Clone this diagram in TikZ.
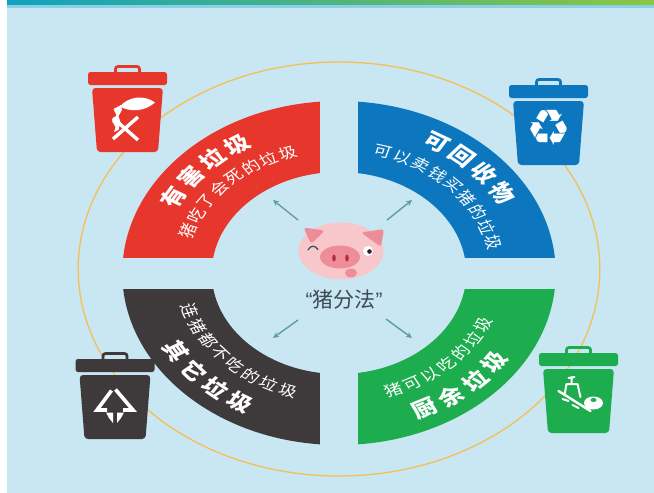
\documentclass[tikz,border=0pt]{standalone}
\usepackage{fontspec}
\newfontfamily\cjk{Noto Sans CJK SC}
\newfontfamily\sym{DejaVu Sans}
\newfontfamily\qfont{Liberation Sans}
\usetikzlibrary{arrows.meta,shapes.geometric}

\definecolor{bg}{HTML}{C8E7F2}
\definecolor{stripA}{HTML}{0FA3BE}
\definecolor{stripB}{HTML}{8DC63F}
\definecolor{band}{HTML}{8BD0E6}
\definecolor{ringred}{HTML}{E7372C}
\definecolor{ringblue}{HTML}{0C77BE}
\definecolor{ringdark}{HTML}{3E3A3B}
\definecolor{ringgreen}{HTML}{1DAD4F}
\definecolor{orangeline}{HTML}{F5BF55}
\definecolor{pigface}{HTML}{F7C7CB}
\definecolor{pigear}{HTML}{EE8D9A}
\definecolor{pigsnout}{HTML}{EE8D98}
\definecolor{nostril}{HTML}{B22B40}
\definecolor{pointer}{HTML}{5E9C9F}
\definecolor{captext}{HTML}{3D4A52}

% one character of a curved label, placed and turned on the ring
\newcommand\ringtext[8]{%
  \foreach \ch [count=\i] in {#1} {%
    \pgfmathsetmacro\ang{#4+(\i-(#2+1)/2)*(#5)}%
    \pgfmathsetmacro\rot{\ang+(#6)}%
    \node[ringchar, font=#7, rotate=\rot] (#8-\i) at (\ang:#3) {\ch};
  }}

\tikzset{
  ringchar/.style={transform shape, inner sep=0pt, text=white, anchor=center},
  pointerline/.style={pointer, line width=1.4pt, -{Stealth[length=6pt,width=5.5pt]}},
  pics/bin/.style={code={
    \draw[#1, line width=2.8pt, rounded corners=2.5pt] (-12,0.5) -- (-12,-5.5) -- (12,-5.5) -- (12,0.5);
    \fill[#1, rounded corners=2.5pt] (-39.5,0) rectangle (39.5,13);
    \fill[#1, rounded corners=3.5pt] (-35.5,16) -- (35.5,16) -- (30.5,80) -- (-30.5,80) -- cycle;
  }}
}

\begin{document}
\begin{tikzpicture}[x=1pt,y=-1pt]
\useasboundingbox (0,0) rectangle (654,493);
% page background, margin and header strip
\fill[bg] (0,0) rectangle (654,493);
\fill[white] (0,0) rectangle (7,493);
\shade[left color=stripA, right color=stripB] (7,0) rectangle (654,4.5);
\fill[band] (7,4.5) rectangle (654,8);

% ring of four sectors with their curved labels
\begin{scope}[shift={(339,273)}, y=1pt, xscale=1.26]
  \draw[orangeline, line width=1.3pt] (0,4) circle (207);
  \begin{scope}
    \clip (-15.1,16) rectangle (-200,200);
    \fill[ringred, even odd rule] (0,0) circle (172) (0,0) circle (101);
  \end{scope}
  \begin{scope}
    \clip (15.1,16) rectangle (200,200);
    \fill[ringblue, even odd rule] (0,0) circle (172) (0,0) circle (101);
  \end{scope}
  \begin{scope}
    \clip (-15.1,-16) rectangle (-200,-200);
    \fill[ringdark, even odd rule] (0,0) circle (172) (0,0) circle (101);
  \end{scope}
  \begin{scope}
    \clip (15.1,-16) rectangle (200,-200);
    \fill[ringgreen, even odd rule] (0,0) circle (172) (0,0) circle (101);
  \end{scope}

  \ringtext{有,害,垃,圾}{4}{152}{136}{-9.2}{-90}{\cjk\bfseries\fontsize{20}{20}\selectfont}{hz}
  \ringtext{猪,吃,了,会,死,的,垃,圾}{8}{127}{134.5}{-7.4}{-90}{\cjk\fontsize{14.5}{14.5}\selectfont}{hzs}
  \ringtext{可,回,收,物}{4}{152}{45.5}{-9.2}{-90}{\cjk\bfseries\fontsize{20}{20}\selectfont}{rc}
  \ringtext{可,以,卖,钱,买,猪,的,垃,圾}{9}{126}{44}{-7.5}{-90}{\cjk\fontsize{14.5}{14.5}\selectfont}{rcs}
  \ringtext{连,猪,都,不,吃,的,垃,圾}{8}{124}{224.5}{7.6}{90}{\cjk\fontsize{14.5}{14.5}\selectfont}{ots}
  \ringtext{其,它,垃,圾}{4}{151}{225}{9.2}{90}{\cjk\bfseries\fontsize{20}{20}\selectfont}{ot}
  \ringtext{猪,可,以,吃,的,垃,圾}{7}{125}{313}{7.6}{90}{\cjk\fontsize{14.5}{14.5}\selectfont}{kws}
  \ringtext{厨,余,垃,圾}{4}{152}{310.5}{9.2}{90}{\cjk\bfseries\fontsize{20}{20}\selectfont}{kw}
\end{scope}

% bins
\pic (redbin) at (127.5,72) {bin=ringred};
\pic (bluebin) at (548.5,85) {bin=ringblue};
\pic (darkbin) at (115,359) {bin=ringdark};
\pic (greenbin) at (578.5,353) {bin=ringgreen};

% hazardous: fish crossed out
\begin{scope}[shift={(127.5,72)}]
  \fill[white] (-7.5,34.5) .. controls (0,25) and (16,22) .. (27.5,30.5)
               .. controls (17,40) and (2,40) .. (-7.5,34.5) -- cycle;
  \fill[white] (-6.5,33) -- (-14,37) -- (-11,43) -- (-15.5,49) -- (-12,55) -- (-13.5,60)
               -- (-9,58) -- (-7,50) -- (-9,44) -- (-5.5,38) -- cycle;
  \draw[white, line width=3.4pt] (-14.5,46) -- (10.5,68) (-14.5,67) -- (10.5,45);
\end{scope}

% recyclable
\node[text=white, inner sep=0pt, font=\sym\fontsize{50}{50}\selectfont] (recy) at (549,128) {♻};

% residual: split arrow triangle
\begin{scope}[shift={(115,359)}]
  \draw[white, line width=3.6pt, line join=miter] (-3.5,31.5) -- (-18,51) -- (-8,51);
  \draw[white, line width=3.6pt, line join=miter] (0.5,30.5) -- (18,51) -- (8,51);
  \fill[white] (-9,53.5) -- (-2,53.5) -- (-2,64) -- (-6,59) -- cycle;
  \fill[white] (9,53.5) -- (2,53.5) -- (2,64) -- (6,59) -- cycle;
\end{scope}

% food waste: leftovers
\begin{scope}[shift={(578.5,353)}]
  \fill[white] (15,50) ellipse (9.5 and 6.5);
  \fill[ringgreen] (15,47) ellipse (3 and 2);
  \draw[white, line width=2.4pt, line cap=round] (-20,38) -- (12,58);
  \draw[white, line width=2pt, line cap=round] (-10,25) -- (-4,24) (-7,24) -- (-7,31)
        (-12,31) -- (-1,31) (-1,31) -- (2,44) (-12,31) -- (-14,42);
  \draw[white, line width=2pt, line cap=round] (-16,46) -- (-10,48) (-6,52) -- (0,55);
\end{scope}

% central pig
\node[ellipse, fill=pigface, minimum width=85pt, minimum height=57pt, inner sep=0pt] (pig) at (341,251) {};
\fill[pigear, rounded corners=3pt] (303.5,227.5) -- (325,230.5) -- (311,244) -- cycle;
\fill[pigear, rounded corners=3pt] (384,229) -- (361,232.5) -- (381,247) -- cycle;
\node[ellipse, fill=pigsnout, minimum width=40pt, minimum height=23pt, inner sep=0pt] (snout) at (340,257) {};
\fill[nostril] (334,258) ellipse (1.8 and 3.5);
\fill[nostril] (347,258) ellipse (1.8 and 3.5);
\fill[pigsnout] (351,273) ellipse (6 and 4.5);
\draw[captext, line width=1.2pt, line cap=round] (308,250) .. controls (311,245) and (314.5,245) .. (318,249.5);
\fill[white] (368,251) circle (5);
\fill[black!85] (369.5,251.5) circle (2.3);

% caption
\node[text=captext, inner sep=0pt, font=\cjk\fontsize{21}{21}\selectfont] (title) at (344,300)
  {{\qfont “}猪分法{\qfont ”}};

% pointers
\coordinate (ul-s) at (298,220); \coordinate (ul-e) at (273,200);
\coordinate (ur-s) at (387,220); \coordinate (ur-e) at (412,200);
\coordinate (ll-s) at (298,320); \coordinate (ll-e) at (273,338);
\coordinate (lr-s) at (386,319); \coordinate (lr-e) at (412,338);
\draw[pointerline] (ul-s) -- (ul-e);
\draw[pointerline] (ur-s) -- (ur-e);
\draw[pointerline] (ll-s) -- (ll-e);
\draw[pointerline] (lr-s) -- (lr-e);
\end{tikzpicture}
\end{document}
